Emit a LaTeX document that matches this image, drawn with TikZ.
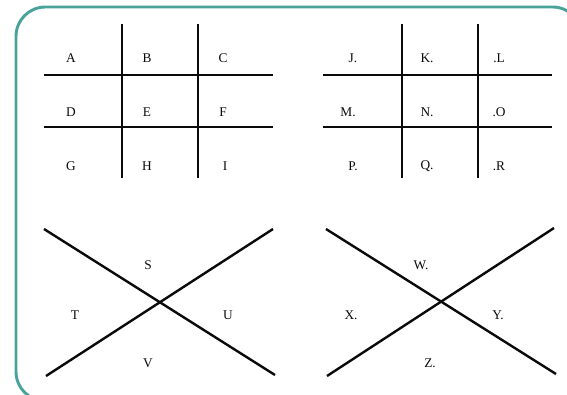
\documentclass[tikz,border=0pt]{standalone}
\usepackage{fontspec}
\setmainfont{Liberation Serif}
\usepackage{tikz}
\usetikzlibrary{positioning,calc}
\definecolor{frameteal}{HTML}{4AA39B}
\definecolor{ink}{HTML}{0A0A0A}
\tikzset{
  cipherline/.style={line width=1.8pt, draw=ink},
  cellletter/.style={font=\normalsize, text=ink, inner sep=0pt, anchor=center},
  panelframe/.style={draw=frameteal, line width=2.2pt, rounded corners=22pt}
}
\begin{document}
\begin{tikzpicture}[x=0.75pt, y=-0.75pt]
\useasboundingbox (0,0) rectangle (567,394);
\clip (0,0) rectangle (567,394);

% Frame
\draw[panelframe] (16,7) rectangle (582,401);

% Grid without dots
\coordinate (ga1) at (44,75);   \coordinate (ga2) at (273,75);
\coordinate (gb1) at (44,127);  \coordinate (gb2) at (273,127);
\coordinate (gc1) at (122,24);  \coordinate (gc2) at (122,178);
\coordinate (gd1) at (198,24);  \coordinate (gd2) at (198,178);
\draw[cipherline] (ga1) -- (ga2);
\draw[cipherline] (gb1) -- (gb2);
\draw[cipherline] (gc1) -- (gc2);
\draw[cipherline] (gd1) -- (gd2);

\node[cellletter] (a) at (71,58) {A};
\node[cellletter] (b) at (147,58) {B};
\node[cellletter] (c) at (223,58) {C};
\node[cellletter] (d) at (71,112) {D};
\node[cellletter] (e) at (147,112) {E};
\node[cellletter] (f) at (223,112) {F};
\node[cellletter] (g) at (71,166) {G};
\node[cellletter] (h) at (147,166) {H};
\node[cellletter] (i) at (225,166) {I};

% Grid with dots
\coordinate (ha1) at (323,75);  \coordinate (ha2) at (552,75);
\coordinate (hb1) at (323,127); \coordinate (hb2) at (552,127);
\coordinate (hc1) at (402,24);  \coordinate (hc2) at (402,178);
\coordinate (hd1) at (478,24);  \coordinate (hd2) at (478,178);
\draw[cipherline] (ha1) -- (ha2);
\draw[cipherline] (hb1) -- (hb2);
\draw[cipherline] (hc1) -- (hc2);
\draw[cipherline] (hd1) -- (hd2);

\node[cellletter] (j) at (353,58) {J.};
\node[cellletter] (k) at (427,58) {K.};
\node[cellletter] (l) at (499,58) {.L};
\node[cellletter] (m) at (348,112) {M.};
\node[cellletter] (n) at (427,112) {N.};
\node[cellletter] (o) at (499,112) {.O};
\node[cellletter] (p) at (353,166) {P.};
\node[cellletter] (q) at (427,166) {Q.};
\node[cellletter] (r) at (499,166) {.R};

% Cross without dots
\coordinate (xa1) at (44,229);  \coordinate (xa2) at (275,375);
\coordinate (xb1) at (46,376);  \coordinate (xb2) at (273,229);
\draw[cipherline] (xa1) -- (xa2);
\draw[cipherline] (xb1) -- (xb2);

\node[cellletter] (s) at (148,265) {S};
\node[cellletter] (t) at (75,315) {T};
\node[cellletter] (u) at (228,315) {U};
\node[cellletter] (v) at (148,363) {V};

% Cross with dots
\coordinate (ya1) at (326,229); \coordinate (ya2) at (556,374);
\coordinate (yb1) at (327,376); \coordinate (yb2) at (554,228);
\draw[cipherline] (ya1) -- (ya2);
\draw[cipherline] (yb1) -- (yb2);

\node[cellletter] (w) at (421,265) {W.};
\node[cellletter] (x) at (351,315) {X.};
\node[cellletter] (y) at (498,315) {Y.};
\node[cellletter] (z) at (430,363) {Z.};

\end{tikzpicture}
\end{document}
